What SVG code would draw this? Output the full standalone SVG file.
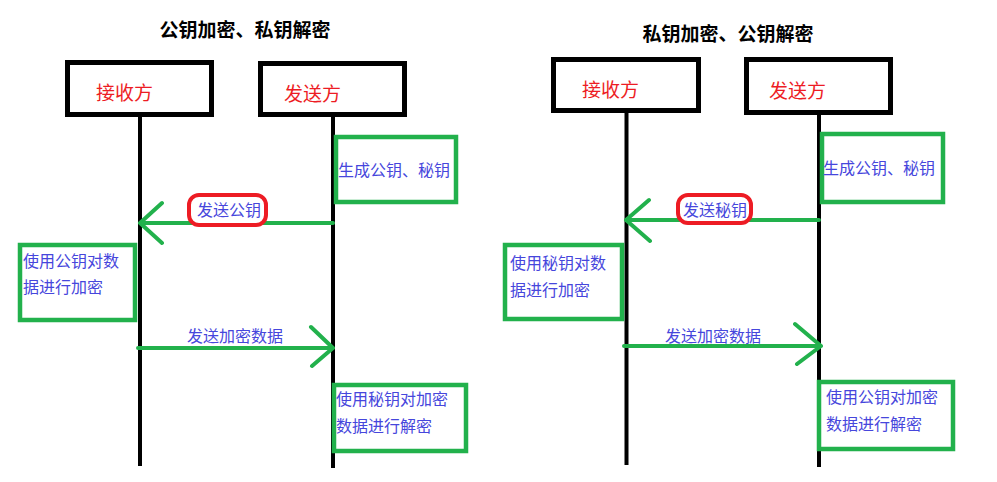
<svg xmlns="http://www.w3.org/2000/svg" width="997" height="482" viewBox="0 0 997 482">
  <style>
    .title { font-family: "Noto Sans CJK SC", "Noto Sans", sans-serif; font-size: 19px; font-weight: bold; fill: #000; }
    .actor { fill: #fff; stroke: #000; stroke-width: 5; }
    .actor-text { font-family: "Noto Sans CJK SC", sans-serif; font-size: 19px; fill: #ed1c24; }
    .life { stroke: #000; stroke-width: 4; fill: none; }
    .note { fill: #fff; stroke: #22b14c; stroke-width: 4.5; }
    .note-text { font-family: "Noto Sans CJK SC", sans-serif; font-size: 16px; fill: #4646dc; }
    .msg { stroke: #22b14c; stroke-width: 4; fill: none; stroke-linecap: round; stroke-linejoin: round; }
    .mark { fill: #fff; stroke: #ed1c24; stroke-width: 4; }
  </style>

  <!-- Left: public-key encryption, private-key decryption -->
  <text class="title" x="245" y="37" text-anchor="middle">公钥加密、私钥解密</text>

  <g id="left-lifelines">
    <line class="life" x1="140" y1="116" x2="140" y2="466"/>
    <line class="life" x1="333" y1="117" x2="333" y2="468"/>
  </g>

  <g id="left-receiver">
    <rect class="actor" x="67.5" y="62.5" width="144" height="52"/>
    <text class="actor-text" x="96" y="100">接收方</text>
  </g>
  <g id="left-sender">
    <rect class="actor" x="260.5" y="63.5" width="144" height="51"/>
    <text class="actor-text" x="284" y="101">发送方</text>
  </g>

  <g id="left-gen-keys">
    <rect class="note" x="336" y="137" width="120" height="65"/>
    <text class="note-text" x="338" y="176">生成公钥、秘钥</text>
  </g>
  <g id="left-encrypt">
    <rect class="note" x="20" y="245" width="115" height="75"/>
    <text class="note-text" x="23" y="267">使用公钥对数</text>
    <text class="note-text" x="23" y="293">据进行加密</text>
  </g>
  <g id="left-decrypt">
    <rect class="note" x="334" y="385" width="132" height="66"/>
    <text class="note-text" x="336" y="405">使用秘钥对加密</text>
    <text class="note-text" x="336" y="432">数据进行解密</text>
  </g>

  <g id="left-connectors">
    <path class="msg" d="M333 223 H140 M162 203 L140 223 L162 243"/>
    <path class="msg" d="M138 348 H333 M311 327 L333 348 L312 366"/>
  </g>

  <g id="left-labels">
    <rect class="mark" x="189" y="195" width="77" height="30" rx="10"/>
    <text class="note-text" x="197" y="216">发送公钥</text>
    <text class="note-text" x="187" y="342">发送加密数据</text>
  </g>

  <!-- Right: private-key encryption, public-key decryption -->
  <text class="title" x="728" y="41" text-anchor="middle">私钥加密、公钥解密</text>

  <g id="right-lifelines">
    <line class="life" x1="626.5" y1="112" x2="626.5" y2="465"/>
    <line class="life" x1="819" y1="114" x2="819" y2="467"/>
  </g>

  <g id="right-receiver">
    <rect class="actor" x="553.5" y="59.5" width="145" height="51"/>
    <text class="actor-text" x="582" y="97">接收方</text>
  </g>
  <g id="right-sender">
    <rect class="actor" x="746.5" y="59.5" width="144" height="53"/>
    <text class="actor-text" x="769" y="98">发送方</text>
  </g>

  <g id="right-gen-keys">
    <rect class="note" x="822" y="134" width="121" height="68"/>
    <text class="note-text" x="823" y="174">生成公钥、秘钥</text>
  </g>
  <g id="right-encrypt">
    <rect class="note" x="505" y="245" width="117" height="74"/>
    <text class="note-text" x="510" y="269">使用秘钥对数</text>
    <text class="note-text" x="510" y="296">据进行加密</text>
  </g>
  <g id="right-decrypt">
    <rect class="note" x="819" y="382" width="134" height="67"/>
    <text class="note-text" x="826" y="403">使用公钥对加密</text>
    <text class="note-text" x="826" y="430">数据进行解密</text>
  </g>

  <g id="right-connectors">
    <path class="msg" d="M819 220 H626 M649 200 L626 220 L650 241"/>
    <path class="msg" d="M624 346 H821 M795 324 L821 346 L797 364"/>
  </g>

  <g id="right-labels">
    <rect class="mark" x="678" y="195" width="73" height="28" rx="10"/>
    <text class="note-text" x="683" y="216">发送秘钥</text>
    <text class="note-text" x="665" y="342">发送加密数据</text>
  </g>
</svg>
